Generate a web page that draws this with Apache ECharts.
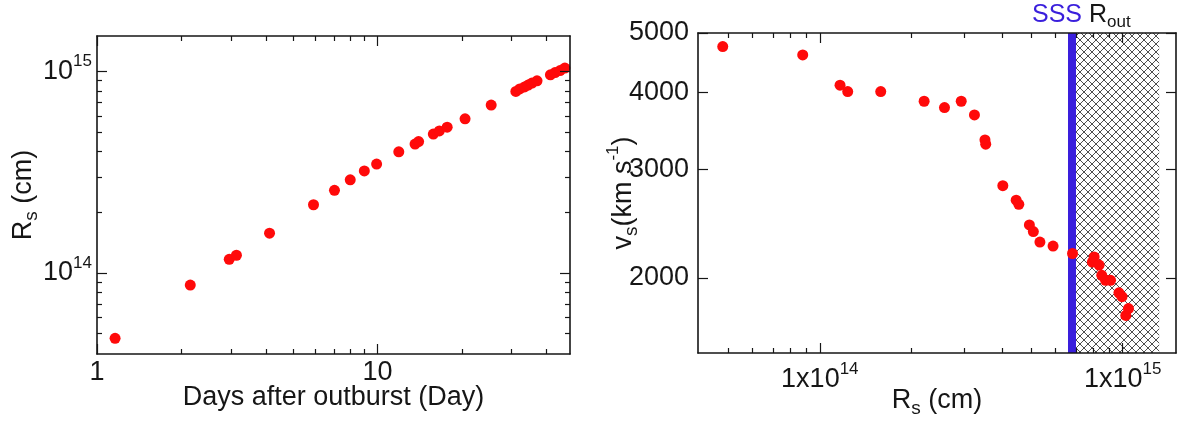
<!DOCTYPE html>
<html>
<head>
<meta charset="utf-8">
<script src="https://cdn.jsdelivr.net/npm/echarts@6/dist/echarts.min.js"></script>
<style>
  html, body { margin: 0; padding: 0; background: #fff; }
  #chart { width: 1184px; height: 421px; }
</style>
</head>
<body>
<div id="chart"></div>
<script>
// Left panel: shock radius against days after the outburst
const days = [1.16, 2.15, 2.96, 3.14, 4.12, 5.91, 7.02, 7.99, 8.97, 9.92, 11.9, 13.6, 14.0, 15.8,
  16.6, 17.7, 20.5, 25.4, 31.1, 32.1, 33.4, 34.4, 35.5, 37.0, 41.3, 42.9, 44.7, 46.5];
const radiusByDay = [4.74e13, 8.71e13, 1.169e14, 1.224e14, 1.575e14, 2.18e14, 2.57e14, 2.90e14,
  3.21e14, 3.47e14, 3.99e14, 4.36e14, 4.49e14, 4.89e14, 5.07e14, 5.29e14, 5.82e14, 6.81e14,
  7.96e14, 8.19e14, 8.38e14, 8.56e14, 8.76e14, 8.99e14, 9.63e14, 9.88e14, 1.011e15, 1.04e15];

// Right panel: shock velocity against shock radius
const shockRadius = [4.78e13, 8.78e13, 1.166e14, 1.236e14, 1.589e14, 2.21e14, 2.58e14, 2.93e14,
  3.24e14, 3.51e14, 3.53e14, 4.02e14, 4.45e14, 4.54e14, 4.92e14, 5.07e14, 5.33e14, 5.89e14,
  6.83e14, 7.94e14, 8.05e14, 8.36e14, 8.53e14, 8.78e14, 9.12e14, 9.72e14, 9.95e14, 1.024e15, 1.045e15];
const shockVelocity = [4753, 4606, 4113, 4016, 4016, 3873, 3783, 3873, 3680, 3351, 3298, 2824,
  2675, 2634, 2438, 2378, 2287, 2253, 2191, 2122, 2163, 2098, 2019, 1982, 1982, 1891, 1864, 1738, 1783];

// Supersoft-source onset radius and outer radius of the shaded zone
const sssRadius = 6.8e14;
const outerRadius = 1.32e15;

// Axis ranges and tick values
const dayRange = [1, 48.5];
const radiusRange = [3.96e13, 1.5e15];
const velocityRange = [1510, 5000];
const dayMajorTicks = [1, 10];
const dayMinorTicks = [2, 3, 4, 5, 6, 7, 8, 9, 20, 30, 40];
const radiusMajorTicks = [1e14, 1e15];
const radiusMinorTicks = [5e13, 6e13, 7e13, 8e13, 9e13, 2e14, 3e14, 4e14, 5e14, 6e14, 7e14, 8e14, 9e14];
const velocityTicks = [2000, 3000, 4000, 5000];

const INK = '#161616';
const RED = '#ff0a0a';
const BLUE = '#3a1fdc';
const FONT = "'Liberation Sans', Arial, Helvetica, sans-serif";
const LABEL_SIZE = 27;
const NAME_SIZE = 27;

const supStyle = { fontSize: 17, fontFamily: FONT, color: INK, padding: [0, 0, 20, 0] };
const subStyle = { fontSize: 19, fontFamily: FONT, color: INK, padding: [16, 0, 0, 0] };

function exponent(v) { return Math.round(Math.log10(v)); }

// Crosshatch tile used to fill the region beyond the SSS radius
const hatchTile = document.createElement('canvas');
hatchTile.width = 8;
hatchTile.height = 8;
(function () {
  const c = hatchTile.getContext('2d');
  c.fillStyle = '#ffffff';
  c.fillRect(0, 0, 8, 8);
  c.strokeStyle = '#3a3a3a';
  c.lineWidth = 0.9;
  c.beginPath();
  c.moveTo(-1, -1); c.lineTo(9, 9);
  c.moveTo(9, -1); c.lineTo(-1, 9);
  c.stroke();
})();

// One log axis that draws a frame edge plus one set of inward ticks
function frameAxis(gridIndex, position, range, ticks, tickLen, showLine, extra) {
  return Object.assign({
    type: 'log',
    logBase: 10,
    gridIndex: gridIndex,
    position: position,
    min: range[0],
    max: range[1],
    z: 5,
    axisLine: { show: showLine, onZero: false, lineStyle: { color: INK, width: 1.6 } },
    axisTick: { show: true, inside: true, length: tickLen, customValues: ticks,
      lineStyle: { color: INK, width: 1.2 } },
    minorTick: { show: false },
    splitLine: { show: false },
    axisLabel: { show: false },
    axisPointer: { show: false }
  }, extra || {});
}

function labelOpts(values, formatter, margin) {
  return {
    show: true,
    customValues: values,
    formatter: formatter,
    margin: margin,
    color: INK,
    fontSize: LABEL_SIZE,
    fontFamily: FONT,
    rich: { sup: supStyle }
  };
}

function nameOpts(text, gap) {
  return {
    name: text,
    nameLocation: 'middle',
    nameGap: gap,
    nameMoveOverlap: false,
    nameTextStyle: { fontSize: NAME_SIZE, fontFamily: FONT, color: INK, rich: { sub: subStyle, sup: supStyle } }
  };
}

const xAxes = [];
const yAxes = [];

// ---- left grid (0) ----
xAxes.push(frameAxis(0, 'bottom', dayRange, dayMajorTicks, 10, true, Object.assign({
  axisLabel: labelOpts(dayMajorTicks, v => String(v), 5)
}, nameOpts('Days after outburst (Day)', 30))));
xAxes.push(frameAxis(0, 'bottom', dayRange, dayMinorTicks, 5, false));
xAxes.push(frameAxis(0, 'top', dayRange, dayMajorTicks, 10, true));
xAxes.push(frameAxis(0, 'top', dayRange, dayMinorTicks, 5, false));
yAxes.push(frameAxis(0, 'left', radiusRange, radiusMajorTicks, 10, true, Object.assign({
  axisLabel: labelOpts(radiusMajorTicks, v => '10{sup|' + exponent(v) + '}', 5)
}, nameOpts('R{sub|s} (cm)', 56))));
yAxes.push(frameAxis(0, 'left', radiusRange, radiusMinorTicks, 5, false));
yAxes.push(frameAxis(0, 'right', radiusRange, radiusMajorTicks, 10, true));
yAxes.push(frameAxis(0, 'right', radiusRange, radiusMinorTicks, 5, false));

// ---- right grid (1) ----
const rightX = xAxes.length;
xAxes.push(frameAxis(1, 'bottom', radiusRange, radiusMajorTicks, 10, true, Object.assign({
  axisLabel: labelOpts(radiusMajorTicks, v => '1x10{sup|' + exponent(v) + '}', 8)
}, nameOpts('R{sub|s} (cm)', 30))));
xAxes.push(frameAxis(1, 'bottom', radiusRange, radiusMinorTicks, 5, false));
xAxes.push(frameAxis(1, 'top', radiusRange, radiusMajorTicks, 10, true));
xAxes.push(frameAxis(1, 'top', radiusRange, radiusMinorTicks, 5, false));
const rightY = yAxes.length;
yAxes.push(frameAxis(1, 'left', velocityRange, velocityTicks, 10, true, Object.assign({
  axisLabel: labelOpts(velocityTicks, v => String(v), 9)
}, nameOpts('v{sub|s}(km s{sup|-1})', 56))));
yAxes.push(frameAxis(1, 'right', velocityRange, velocityTicks, 10, true));

const option = {
  animation: false,
  backgroundColor: '#ffffff',
  textStyle: { fontFamily: FONT },
  title: {
    text: '{sss|SSS} R{sub|out}',
    left: 1032,
    top: 0,
    padding: 0,
    textStyle: {
      fontSize: 25, fontWeight: 'normal', color: INK, fontFamily: FONT,
      rich: {
        sss: { fontSize: 25, color: BLUE, fontFamily: FONT },
        sub: { fontSize: 17, color: INK, fontFamily: FONT, padding: [14, 0, 0, 0] }
      }
    }
  },
  grid: [
    { left: 97, top: 36, width: 473, height: 318, outerBoundsMode: 'none', containLabel: false },
    { left: 698, top: 33, width: 478, height: 320, outerBoundsMode: 'none', containLabel: false }
  ],
  xAxis: xAxes,
  yAxis: yAxes,
  series: [
    {
      name: 'radius',
      type: 'scatter',
      xAxisIndex: 0,
      yAxisIndex: 0,
      z: 3,
      symbol: 'circle',
      symbolSize: 11,
      itemStyle: { color: RED, opacity: 1 },
      data: days.map((d, i) => [d, radiusByDay[i]])
    },
    {
      name: 'sss zone',
      type: 'line',
      xAxisIndex: rightX,
      yAxisIndex: rightY,
      z: 1,
      data: [],
      markArea: {
        silent: true,
        z: 1,
        itemStyle: { color: { image: hatchTile, repeat: 'repeat' }, opacity: 1 },
        label: { show: false },
        data: [[{ xAxis: sssRadius }, { xAxis: outerRadius }]]
      },
      markLine: {
        silent: true,
        z: 2,
        symbol: 'none',
        label: { show: false },
        lineStyle: { color: BLUE, width: 8, type: 'solid', opacity: 1 },
        data: [{ xAxis: sssRadius }]
      }
    },
    {
      name: 'velocity',
      type: 'scatter',
      xAxisIndex: rightX,
      yAxisIndex: rightY,
      z: 3,
      symbol: 'circle',
      symbolSize: 11,
      itemStyle: { color: RED, opacity: 1 },
      data: shockRadius.map((r, i) => [r, shockVelocity[i]])
    }
  ]
};

const chart = echarts.init(document.getElementById('chart'), null, { renderer: 'canvas' });
chart.setOption(option);
</script>
</body>
</html>
